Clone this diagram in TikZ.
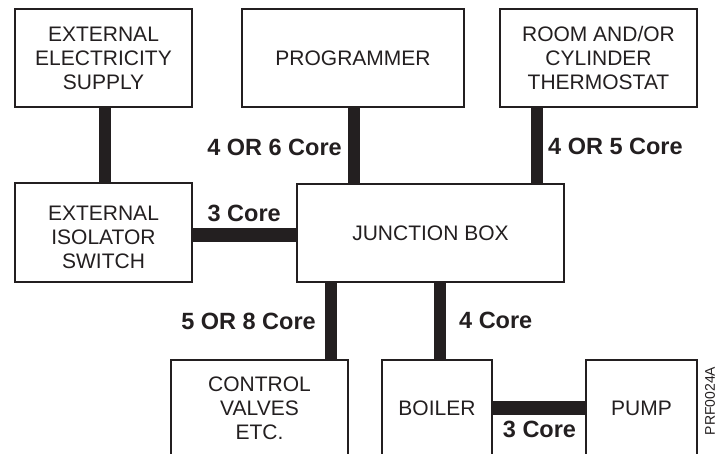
\documentclass[tikz,border=0pt]{standalone}
\usepackage{fontspec}
\setmainfont{Liberation Sans}
\definecolor{ink}{HTML}{231F20}
\begin{document}
\begin{tikzpicture}[x=1pt,y=-1pt,
  txt/.style={align=center, text=ink, font=\fontsize{21}{24}\selectfont, inner sep=0pt},
  box/.style={txt, draw=ink, line width=2pt, fill=white},
  vbar/.style={draw=ink, line width=12pt},
  hbar/.style={draw=ink, line width=14pt},
  lbl/.style={text=ink, font=\bfseries\fontsize{23.5}{26}\selectfont, inner sep=0pt}]
\useasboundingbox (0,0) rectangle (728,454);
\clip (0,0) rectangle (728,454);
% boxes
\node[box, minimum width=177pt, minimum height=98pt] (supply) at (103.5,58) {EXTERNAL\\ELECTRICITY\\SUPPLY};
\node[box, minimum width=222pt, minimum height=98pt] (prog) at (353,58) {PROGRAMMER};
\node[box, minimum width=197pt, minimum height=98pt] (thermo) at (598.5,58) {ROOM AND/OR\\CYLINDER\\THERMOSTAT};
\node[box, minimum width=177pt, minimum height=99pt,
  label={[txt, yshift=-5pt]center:{EXTERNAL\\ISOLATOR\\SWITCH}}] (iso) at (103.5,232.5) {};
\node[box, minimum width=267pt, minimum height=98pt] (junction) at (430.5,233) {JUNCTION BOX};
\node[box, minimum width=177pt, minimum height=96pt] (valves) at (259.5,408) {CONTROL\\VALVES\\ETC.};
\node[box, minimum width=110pt, minimum height=96pt] (boiler) at (437,408) {BOILER};
\node[box, minimum width=111pt, minimum height=96pt] (pump) at (641.5,408) {PUMP};
% cables
\draw[vbar] ([xshift=1.5pt]supply.south) -- ([xshift=1.5pt]iso.north);
\draw[vbar] ([xshift=1pt]prog.south) -- ([xshift=1pt]prog.south |- junction.north);
\draw[vbar] ([xshift=-61.5pt]thermo.south) -- ([xshift=-61.5pt]thermo.south |- junction.north);
\draw[hbar] ([yshift=-2.5pt]iso.east) -- ([yshift=-2.5pt]iso.east -| junction.west);
\draw[vbar] ([xshift=71.5pt]valves.north) -- ([xshift=71.5pt]valves.north |- junction.south);
\draw[vbar] ([xshift=2.5pt]boiler.north) -- ([xshift=2.5pt]boiler.north |- junction.south);
\draw[hbar] (boiler.east) -- (pump.west);
% labels
\node[lbl, anchor=east] (l46) at (342,147) {4 OR 6 Core};
\node[lbl, anchor=west] (l45) at (548,146) {4 OR 5 Core};
\node[lbl, anchor=east] (l3a) at (281,213.5) {3 Core};
\node[lbl, anchor=east] (l58) at (316,321) {5 OR 8 Core};
\node[lbl, anchor=west] (l4) at (459,320.5) {4 Core};
\node[lbl] (l3b) at (539.5,429.5) {3 Core};
\node[rotate=90, font=\fontsize{14}{16}\selectfont, text=ink, inner sep=0pt] (code) at (710,401) {PRF0024A};
\end{tikzpicture}
\end{document}
